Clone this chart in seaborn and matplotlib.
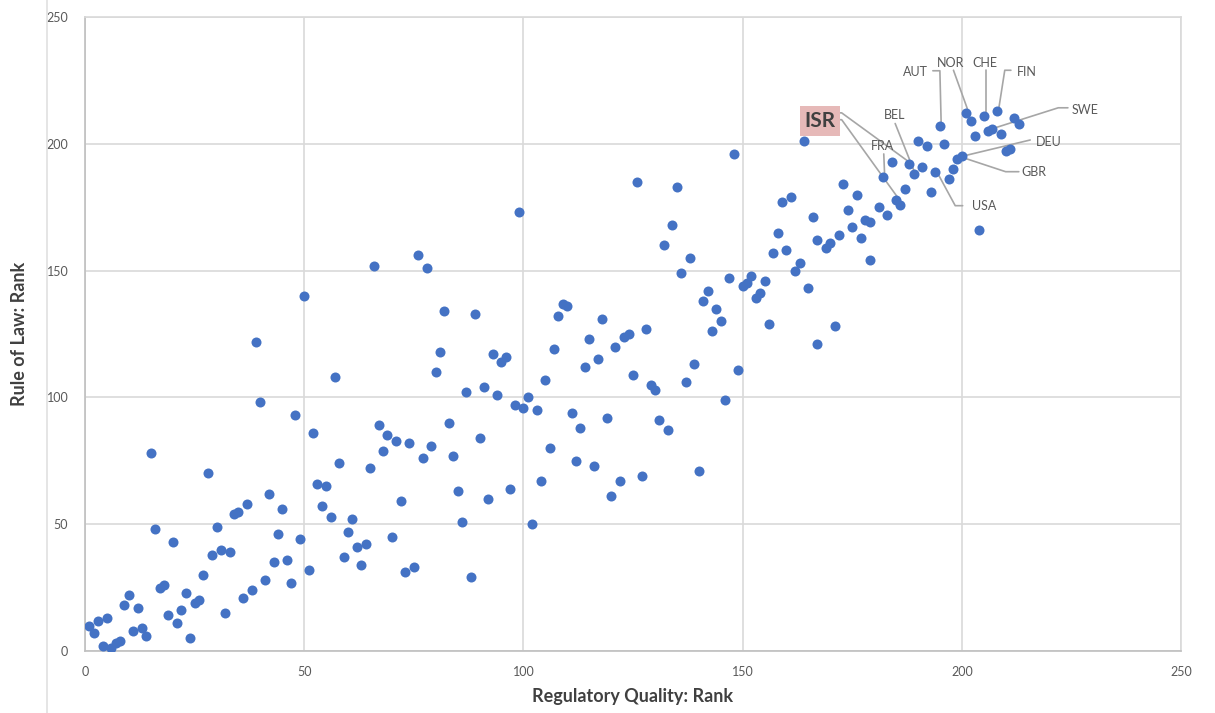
import matplotlib
matplotlib.use('Agg')
import matplotlib.pyplot as plt
from matplotlib.lines import Line2D
import pandas as pd
import seaborn as sns

# Regulatory Quality rank (x) and Rule of Law rank (y)
reg_quality = [
    40, 48, 52, 15, 28, 53, 54, 42, 45, 37, 35, 34, 30, 16, 20, 44, 49, 29, 31, 33,
    43, 46, 51, 27, 41, 47, 10, 9, 12, 17, 18, 23, 25, 26, 22, 19, 21, 36, 38, 32,
    24, 11, 13, 14, 1, 2, 3, 5, 4, 6, 7, 8,
    57, 87, 91, 94, 98, 100, 101, 103, 67, 69, 71, 74, 68, 79, 77, 83, 84, 90,
    58, 65, 55, 56, 61, 60, 62, 64, 59, 63, 70, 72, 73, 75, 85, 86, 88, 92, 97, 102, 104,
    105, 129, 130, 137, 111, 119, 113, 131, 133, 146, 106, 112, 116, 122, 127, 120, 140,
    50, 39,
    99, 76, 66, 78, 82, 89, 81, 80, 93, 96, 95,
    148, 126, 135, 134, 132, 138, 136, 147, 152, 150, 151, 153, 142, 141, 144, 145, 143,
    109, 110, 108, 118, 115, 107, 123, 124, 128, 121, 117, 114, 125, 139, 149,
    184, 188, 191, 189, 194, 182, 198, 197, 199, 200, 187, 193, 185, 186, 181, 183,
    173, 176, 174, 178, 179, 175, 177, 172, 166, 159, 161, 158, 167, 169, 170, 157,
    160, 179, 204, 163, 162, 155, 154, 165, 156, 171, 167,
    164, 195, 201, 202, 205, 208, 212, 213, 206, 207, 209, 203, 190, 192, 196, 210, 211,
]
rule_of_law = [
    98, 93, 86, 78, 70, 66, 57, 62, 56, 58, 55, 54, 49, 48, 43, 46, 44, 38, 40, 39,
    35, 36, 32, 30, 28, 27, 22, 18, 17, 25, 26, 23, 19, 20, 16, 14, 11, 21, 24, 15,
    5, 8, 9, 6, 10, 7, 12, 13, 2, 1, 3, 4,
    108, 102, 104, 101, 97, 96, 100, 95, 89, 85, 83, 82, 79, 81, 76, 90, 77, 84,
    74, 72, 65, 53, 52, 47, 41, 42, 37, 34, 45, 59, 31, 33, 63, 51, 29, 60, 64, 50, 67,
    107, 105, 103, 106, 94, 92, 88, 91, 87, 99, 80, 75, 73, 67, 69, 61, 71,
    140, 122,
    173, 156, 152, 151, 134, 133, 118, 110, 117, 116, 114,
    196, 185, 183, 168, 160, 155, 149, 147, 148, 144, 145, 139, 142, 138, 135, 130, 126,
    137, 136, 132, 131, 123, 119, 124, 125, 127, 120, 115, 112, 109, 113, 111,
    193, 192, 191, 188, 189, 187, 190, 186, 194, 195, 182, 181, 178, 176, 175, 172,
    184, 180, 174, 170, 169, 167, 163, 164, 171, 177, 179, 165, 162, 159, 161, 157,
    158, 154, 166, 153, 150, 146, 141, 143, 129, 128, 121,
    201, 207, 212, 209, 211, 213, 210, 208, 205, 206, 204, 203, 201, 199, 200, 197, 198,
]

# country labels: text position and leader line path (data units)
label_names = ['AUT', 'NOR', 'CHE', 'FIN', 'SWE', 'BEL', 'FRA', 'DEU', 'GBR', 'USA']
label_pos = [(189.5, 228.5), (197.5, 232), (205.3, 231.8), (214.8, 228.5), (228.2, 213.5),
             (184.6, 211.5), (181.9, 199), (219.8, 200.7), (216.5, 189), (205, 175.4)]
label_paths = [
    [(193.4, 228.8), (195.0, 228.8), (195.3, 207.5)],
    [(198.1, 229.0), (201.5, 212.7)],
    [(205.6, 229.0), (205.6, 211.5)],
    [(211.2, 229.0), (209.8, 229.0), (208.4, 213.5)],
    [(224.2, 214.2), (222.0, 214.2), (207.6, 206.3)],
    [(184.8, 208.0), (189.3, 188.5)],
    [(182.2, 196.0), (182.4, 187.5)],
    [(215.6, 201.5), (199.9, 195.0)],
    [(213.0, 189.0), (210.0, 189.0), (200.7, 194.3)],
    [(200.2, 175.6), (198.5, 175.6), (194.3, 189.0)],
]
isr_pos = (167.6, 209)
isr_paths = [
    [(171.0, 212.2), (172.6, 212.2), (188.4, 192.3)],
    [(171.0, 209.5), (172.6, 209.5), (186.4, 176.4)],
]

df = pd.DataFrame({'Regulatory Quality: Rank': reg_quality,
                   'Rule of Law: Rank': rule_of_law})

sns.set_style('white')
plt.rcParams['font.family'] = ['Lato', 'DejaVu Sans']

fig = plt.figure(figsize=(12.15, 7.13), dpi=100)
ax = fig.add_axes([85 / 1215, 1 - 651 / 713, (1181 - 85) / 1215, (651 - 17) / 713])

sns.scatterplot(data=df, x='Regulatory Quality: Rank', y='Rule of Law: Rank',
                color='#4472C4', s=52, linewidth=0, ax=ax, zorder=3)

ax.set_xlim(0, 250)
ax.set_ylim(0, 250)
ax.set_xticks(range(0, 251, 50))
ax.set_yticks(range(0, 251, 50))
ax.grid(True, color='#d9d9d9', linewidth=1.2, zorder=0)
for side in ['top', 'right']:
    ax.spines[side].set_color('#d9d9d9')
for side in ['left', 'bottom']:
    ax.spines[side].set_color('#bfbfbf')
for spine in ax.spines.values():
    spine.set_linewidth(1.2)
ax.tick_params(axis='both', length=0, labelsize=9, labelcolor='#595959')
ax.tick_params(axis='x', pad=11)
ax.tick_params(axis='y', pad=12)

ax.set_xlabel('Regulatory Quality: Rank', fontsize=13, fontweight='bold',
              color='#404040')
ax.set_ylabel('Rule of Law: Rank', fontsize=13, fontweight='bold',
              color='#404040')
ax.xaxis.set_label_coords(0.5, -0.058)
ax.yaxis.set_label_coords(-0.052, 0.5)

# annotations
for name, pos, path in zip(label_names, label_pos, label_paths):
    ax.text(pos[0], pos[1], name, fontsize=9, color='#595959',
            ha='center', va='center', zorder=5)
    ax.plot([p[0] for p in path], [p[1] for p in path], color='#a6a6a6',
            linewidth=1.2, zorder=2)
for path in isr_paths:
    ax.plot([p[0] for p in path], [p[1] for p in path], color='#a6a6a6',
            linewidth=1.2, zorder=2)
ax.text(isr_pos[0], isr_pos[1], 'ISR', fontsize=15, fontweight='bold',
        color='#404040', ha='center', va='center', zorder=5,
        bbox=dict(boxstyle='square,pad=0.22', facecolor='#e6b9b8', edgecolor='none'))

# chart area border on the left
fig.add_artist(Line2D([47 / 1215, 47 / 1215], [0, 1], color='#e0e0e0',
                      linewidth=1.2, transform=fig.transFigure))

fig.savefig('out.png', dpi=100)
